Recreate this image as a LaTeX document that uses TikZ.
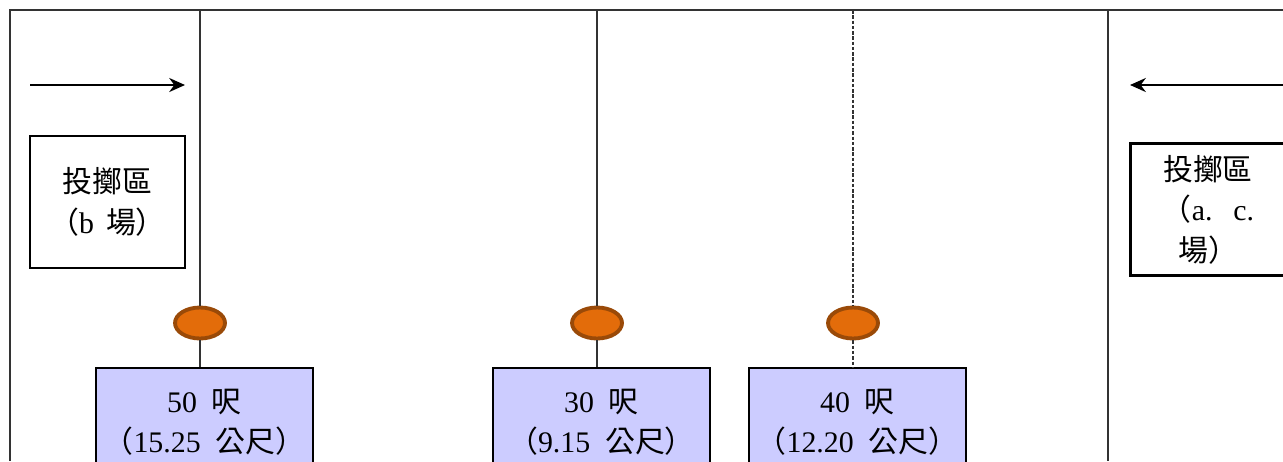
\documentclass[tikz,border=0pt]{standalone}
\usepackage{fontspec}
\setmainfont{Liberation Serif}
\newfontfamily\cjk{Noto Sans CJK TC}
\usetikzlibrary{shapes.geometric,arrows.meta}

\definecolor{discfill}{HTML}{E36C0A}
\definecolor{discedge}{HTML}{9A4A08}
\definecolor{markblue}{HTML}{CCCCFF}

\begin{document}
\begin{tikzpicture}[x=0.02cm,y=-0.02cm,
      thinline/.style={line width=0.6pt,draw=black!80},
      dotline/.style={dash pattern=on 2pt off 1pt},
      marrow/.style={-{Stealth[length=9pt,width=8pt]},line width=1.2pt},
      zonebox/.style={draw,line width=1.3pt,minimum width=3.1cm,minimum height=2.64cm,
                      align=center,inner sep=0pt,font=\fontsize{17}{23}\selectfont},
      distbox/.style={draw,fill=markblue,line width=1.3pt,minimum width=4.34cm,minimum height=2.16cm,
                      anchor=north,align=center,font=\fontsize{17}{23}\selectfont},
      disc/.style={ellipse,draw=discedge,fill=discfill,line width=2.2pt,
                   minimum width=1.0cm,minimum height=0.62cm,inner sep=0pt}]
    \useasboundingbox (0,0) rectangle (1283,461);
    \clip (0,0) rectangle (1283,461);

    % field border and side line
    \draw[thinline] (10,461) -- (10,10) -- (1283,10);
    \draw[thinline] (1108,10) -- (1108,461);

    % throwing zones and directions
    \node[zonebox] (zoneb) at (107.5,202) {{\cjk 投擲區}\\{\cjk （}b\hspace{0.4em}{\cjk 場）}};
    \node[zonebox,yshift=-0.06cm] (zoneac) at (1208,206.5) {{\cjk 投擲區}\\{\cjk （}a.\hspace{0.7em}c.\\{\cjk 場）}};
    \coordinate (lfrom) at (30,85);
    \coordinate (lto) at (185,85);
    \coordinate (rfrom) at (1283,85);
    \coordinate (rto) at (1130,85);
    \draw[marrow] (lfrom) -- (lto);
    \draw[marrow] (rfrom) -- (rto);

    % throwing lines with markers and distances
    \foreach \x/\n/\ft/\m/\ls in {200/1/50/15.25/solid,597/2/30/9.15/solid,853/3/40/12.20/dotline} {
      \coordinate (top\n) at (\x,10);
      \node[disc] (disc\n) at (\x,323) {};
      \node[distbox] (dist\n) at (\x+4.5,367) {\ft\hspace{0.5em}{\cjk 呎}\\{\cjk （}\m\hspace{0.5em}{\cjk 公尺）}};
      \draw[thinline,\ls] (top\n) -- (disc\n) -- (disc\n |- dist\n.north);
    }
  \end{tikzpicture}
\end{document}
